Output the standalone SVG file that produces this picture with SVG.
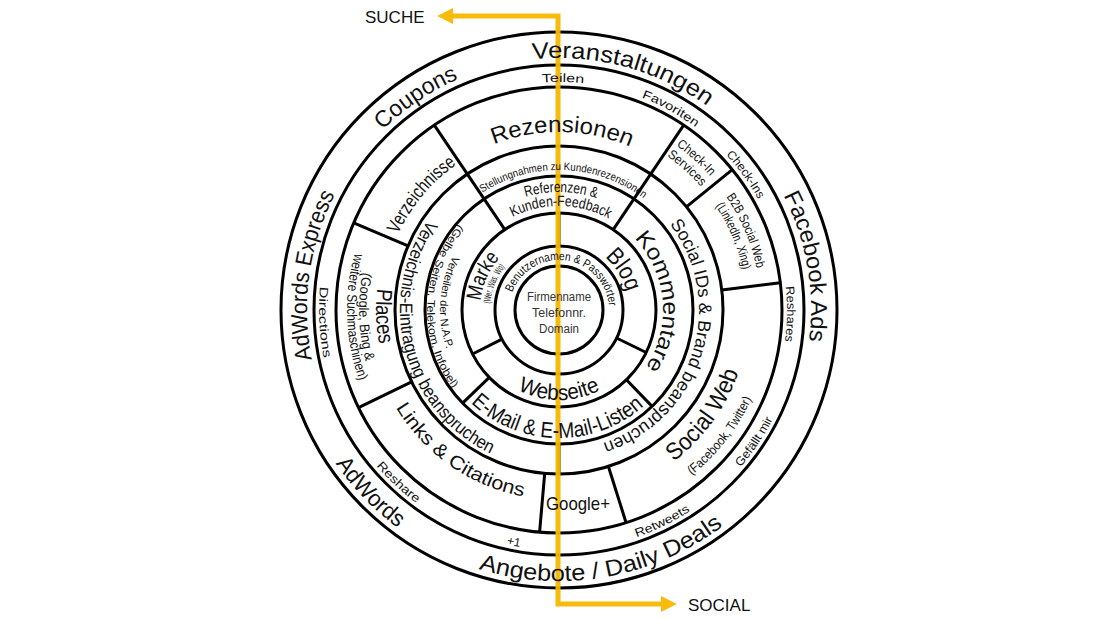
<svg xmlns="http://www.w3.org/2000/svg" xmlns:xlink="http://www.w3.org/1999/xlink" width="1100" height="618" viewBox="0 0 1100 618">
<style>
text{font-family:"Liberation Sans","Noto Sans",sans-serif;fill:#111}
.ring{fill:none;stroke:#000;stroke-width:3}
.sp{stroke:#000;stroke-width:3}
.o{font-size:23px}
.s{font-size:12px}
.l{font-size:21px}
.m{font-size:17px}
.t{font-size:12px}
</style>
<defs>
<marker id="ah" viewBox="0 0 10 10" refX="2" refY="5" markerWidth="3.2" markerHeight="3.2" orient="auto-start-reverse"><path d="M0,0 L10,5 L0,10 z" fill="#F6B800"/></marker>
<path id="c252" d="M559,562 A252,252 0 1 1 559,58 A252,252 0 1 1 559,562"/>
<path id="c228" d="M559,538 A228,228 0 1 1 559,82 A228,228 0 1 1 559,538"/>
<path id="c202" d="M559,512 A202,202 0 1 1 559,108 A202,202 0 1 1 559,512"/>
<path id="c188" d="M559,498 A188,188 0 1 1 559,122 A188,188 0 1 1 559,498"/>
<path id="c178" d="M559,488 A178,178 0 1 1 559,132 A178,178 0 1 1 559,488"/>
<path id="c140" d="M559,450 A140,140 0 1 1 559,170 A140,140 0 1 1 559,450"/>
<path id="c118" d="M559,428 A118,118 0 1 1 559,192 A118,118 0 1 1 559,428"/>
<path id="c104" d="M559,414 A104,104 0 1 1 559,206 A104,104 0 1 1 559,414"/>
<path id="c79" d="M559,389 A79,79 0 1 1 559,231 A79,79 0 1 1 559,389"/>
<path id="c70" d="M559,380 A70,70 0 1 1 559,240 A70,70 0 1 1 559,380"/>
<path id="c69" d="M559,379 A69,69 0 1 1 559,241 A69,69 0 1 1 559,379"/>
<path id="c50" d="M559,360 A50,50 0 1 1 559,260 A50,50 0 1 1 559,360"/>
<path id="a271" d="M559,39 A271,271 0 1 0 559,581 A271,271 0 1 0 559,39"/>
<path id="a240" d="M559,70 A240,240 0 1 0 559,550 A240,240 0 1 0 559,70"/>
<path id="a212" d="M559,98 A212,212 0 1 0 559,522 A212,212 0 1 0 559,98"/>
<path id="a200" d="M559,110 A200,200 0 1 0 559,510 A200,200 0 1 0 559,110"/>
<path id="a190" d="M559,120 A190,190 0 1 0 559,500 A190,190 0 1 0 559,120"/>
<path id="a183" d="M559,127 A183,183 0 1 0 559,493 A183,183 0 1 0 559,127"/>
<path id="a159" d="M559,151 A159,159 0 1 0 559,469 A159,159 0 1 0 559,151"/>
<path id="a132" d="M559,178 A132,132 0 1 0 559,442 A132,132 0 1 0 559,178"/>
<path id="a128" d="M559,182 A128,128 0 1 0 559,438 A128,128 0 1 0 559,182"/>
<path id="a119" d="M559,191 A119,119 0 1 0 559,429 A119,119 0 1 0 559,191"/>
<path id="a90" d="M559,220 A90,90 0 1 0 559,400 A90,90 0 1 0 559,220"/>
</defs>
<rect width="1100" height="618" fill="#fff"/>
<g id="rings">
<circle class="ring" cx="559" cy="310" r="278"/>
<circle class="ring" cx="559" cy="310" r="245"/>
<circle class="ring" cx="559" cy="310" r="223"/>
<circle class="ring" cx="559" cy="310" r="164"/>
<circle class="ring" cx="559" cy="310" r="134"/>
<circle class="ring" cx="559" cy="310" r="97"/>
<circle class="ring" cx="559" cy="310" r="64"/>
<circle class="ring" cx="559" cy="310" r="44"/>
</g>
<g id="connectors">
<line class="sp" x1="683.7" y1="125.1" x2="613.2" y2="229.6"/>
<line class="sp" x1="434.3" y1="125.1" x2="504.8" y2="229.6"/>
<line class="sp" x1="686.4" y1="206.8" x2="732.3" y2="169.7"/>
<line class="sp" x1="721.8" y1="290" x2="780.4" y2="282.8"/>
<line class="sp" x1="608.4" y1="466.5" x2="626.1" y2="522.7"/>
<line class="sp" x1="544.7" y1="473.3" x2="539.6" y2="532.1"/>
<line class="sp" x1="411.6" y1="381.9" x2="358.5" y2="407.7"/>
<line class="sp" x1="408" y1="245.9" x2="353.7" y2="222.8"/>
<line class="sp" x1="559" y1="444" x2="559" y2="474"/>
<line class="sp" x1="626.4" y1="379.8" x2="652.1" y2="406.4"/>
<line class="sp" x1="489.3" y1="377.4" x2="462.6" y2="403.1"/>
<line class="sp" x1="559" y1="246" x2="559" y2="213"/>
<line class="sp" x1="616.5" y1="338" x2="646.2" y2="352.5"/>
<line class="sp" x1="502" y1="339.1" x2="472.6" y2="354"/>
<path d="M450,16 H558 V604 H664" fill="none" stroke="#F6B800" stroke-width="5" marker-start="url(#ah)" marker-end="url(#ah)" opacity="0.95"/>
</g>
<g id="labels">
<text x="365" y="23" style="font-size:17px">SUCHE</text>
<text x="688" y="611" style="font-size:17px">SOCIAL</text>
<text class="o" text-anchor="middle"><textPath href="#c252" startOffset="54.17%" textLength="185" lengthAdjust="spacingAndGlyphs">Veranstaltungen</textPath></text>
<text class="o" text-anchor="middle"><textPath href="#c252" startOffset="40.56%" textLength="92" lengthAdjust="spacingAndGlyphs">Coupons</textPath></text>
<text class="o" text-anchor="middle"><textPath href="#c252" startOffset="27.22%" textLength="170" lengthAdjust="spacingAndGlyphs">AdWords Express</textPath></text>
<text class="o" text-anchor="middle"><textPath href="#c252" startOffset="72.22%" textLength="150" lengthAdjust="spacingAndGlyphs">Facebook Ads</textPath></text>
<text class="o" text-anchor="middle"><textPath href="#a271" startOffset="52.78%" textLength="258" lengthAdjust="spacingAndGlyphs">Angebote / Daily Deals</textPath></text>
<text class="o" text-anchor="middle"><textPath href="#a271" startOffset="37.22%" textLength="90" lengthAdjust="spacingAndGlyphs">AdWords</textPath></text>
<text class="s" text-anchor="middle"><textPath href="#c228" startOffset="50.28%" textLength="42" lengthAdjust="spacingAndGlyphs">Teilen</textPath></text>
<text class="s" text-anchor="middle"><textPath href="#c228" startOffset="58.06%" textLength="62" lengthAdjust="spacingAndGlyphs">Favoriten</textPath></text>
<text class="s" text-anchor="middle"><textPath href="#c228" startOffset="65%" textLength="55" lengthAdjust="spacingAndGlyphs">Check-Ins</textPath></text>
<text class="s" text-anchor="middle"><textPath href="#c228" startOffset="75.28%" textLength="55" lengthAdjust="spacingAndGlyphs">Reshares</textPath></text>
<text class="s" text-anchor="middle"><textPath href="#a240" startOffset="65.56%" textLength="58" lengthAdjust="spacingAndGlyphs">Gefällt mir</textPath></text>
<text class="s" text-anchor="middle"><textPath href="#a240" startOffset="57.22%" textLength="60" lengthAdjust="spacingAndGlyphs">Retweets</textPath></text>
<text class="s" text-anchor="middle"><textPath href="#a240" startOffset="46.94%">+1</textPath></text>
<text class="s" text-anchor="middle"><textPath href="#a240" startOffset="38.06%" textLength="55" lengthAdjust="spacingAndGlyphs">Reshare</textPath></text>
<text class="s" text-anchor="middle"><textPath href="#a240" startOffset="25.83%" textLength="72" lengthAdjust="spacingAndGlyphs">Directions</textPath></text>
<text class="l" style="font-size:23px" text-anchor="middle"><textPath href="#c178" startOffset="50.28%" textLength="140" lengthAdjust="spacingAndGlyphs">Rezensionen</textPath></text>
<text class="m" style="font-size:19px" text-anchor="middle"><textPath href="#c178" startOffset="36.11%" textLength="92" lengthAdjust="spacingAndGlyphs">Verzeichnisse</textPath></text>
<text class="t" style="font-size:13px" text-anchor="middle"><textPath href="#c202" startOffset="61.67%" textLength="46" lengthAdjust="spacingAndGlyphs">Check-In</textPath></text>
<text class="t" style="font-size:13px" text-anchor="middle"><textPath href="#c188" startOffset="61.67%" textLength="46" lengthAdjust="spacingAndGlyphs">Services</textPath></text>
<text class="t" style="font-size:13px" text-anchor="middle"><textPath href="#c202" startOffset="68.61%" textLength="78" lengthAdjust="spacingAndGlyphs">B2B Social Web</textPath></text>
<text class="t" style="font-size:13px" text-anchor="middle"><textPath href="#c188" startOffset="68.61%" textLength="70" lengthAdjust="spacingAndGlyphs">(LinkedIn, Xing)</textPath></text>
<text class="l" style="font-size:24px" text-anchor="middle"><textPath href="#a190" startOffset="65%" textLength="112" lengthAdjust="spacingAndGlyphs">Social Web</textPath></text>
<text class="t" style="font-size:13px" text-anchor="middle"><textPath href="#a212" startOffset="64.44%" textLength="98" lengthAdjust="spacingAndGlyphs">(Facebook, Twitter)</textPath></text>
<text class="m" style="font-size:19px" text-anchor="middle"><textPath href="#a190" startOffset="40.28%" textLength="160" lengthAdjust="spacingAndGlyphs">Links &amp; Citations</textPath></text>
<text class="l" style="font-size:22px" text-anchor="middle"><textPath href="#a183" startOffset="25.56%" textLength="56" lengthAdjust="spacingAndGlyphs">Places</textPath></text>
<text class="t" style="font-size:14px" text-anchor="middle"><textPath href="#a200" startOffset="25.56%" textLength="90" lengthAdjust="spacingAndGlyphs">(Google, Bing &amp;</textPath></text>
<text class="t" style="font-size:14px" text-anchor="middle"><textPath href="#a212" startOffset="25.56%" textLength="130" lengthAdjust="spacingAndGlyphs">weitere Suchmaschinen)</textPath></text>
<text x="578" y="510" class="m" style="font-size:19px" text-anchor="middle" textLength="64" lengthAdjust="spacingAndGlyphs">Google+</text>
<text style="font-size:11px" text-anchor="middle"><textPath href="#c140" startOffset="50.56%" textLength="172" lengthAdjust="spacingAndGlyphs">Stellungnahmen zu Kundenrezensionen</textPath></text>
<text class="m" style="font-size:18px" text-anchor="middle"><textPath href="#c140" startOffset="79.72%" textLength="268" lengthAdjust="spacingAndGlyphs">Social IDs &amp; Brand beanspruchen</textPath></text>
<text class="m" style="font-size:18px" text-anchor="middle"><textPath href="#a159" startOffset="29.17%" textLength="275" lengthAdjust="spacingAndGlyphs">Verzeichnis-Eintragung beanspruchen</textPath></text>
<text class="t" style="font-size:15px" text-anchor="middle"><textPath href="#c118" startOffset="50.28%" textLength="72" lengthAdjust="spacingAndGlyphs">Referenzen &amp;</textPath></text>
<text class="t" style="font-size:15px" text-anchor="middle"><textPath href="#c104" startOffset="50.28%" textLength="100" lengthAdjust="spacingAndGlyphs">Kunden-Feedback</textPath></text>
<text class="l" style="font-size:22px" text-anchor="middle"><textPath href="#c104" startOffset="73.61%" textLength="140" lengthAdjust="spacingAndGlyphs">Kommentare</textPath></text>
<text class="t" style="font-size:11px" text-anchor="middle"><textPath href="#a119" startOffset="23.89%" textLength="96" lengthAdjust="spacingAndGlyphs">Verteilen der N.A.P.</textPath></text>
<text class="t" style="font-size:11px" text-anchor="middle"><textPath href="#a132" startOffset="24.44%" textLength="178" lengthAdjust="spacingAndGlyphs">(Gelbe Seiten, Telekom, Infobel)</textPath></text>
<text class="l" style="font-size:22px" text-anchor="middle"><textPath href="#a128" startOffset="49.72%" textLength="190" lengthAdjust="spacingAndGlyphs">E-Mail &amp; E-Mail-Listen</textPath></text>
<text class="l" style="font-size:24px" text-anchor="middle"><textPath href="#c70" startOffset="66.11%" textLength="42" lengthAdjust="spacingAndGlyphs">Blog</textPath></text>
<text class="l" style="font-size:21px" text-anchor="middle"><textPath href="#c79" startOffset="31.67%" textLength="48" lengthAdjust="spacingAndGlyphs">Marke</textPath></text>
<text style="font-size:10px" text-anchor="middle"><textPath href="#c69" startOffset="31.11%" textLength="40" lengthAdjust="spacingAndGlyphs">(Wer, Was, Wo)</textPath></text>
<text class="l" style="font-size:22px" text-anchor="middle"><textPath href="#a90" startOffset="50%" textLength="86" lengthAdjust="spacingAndGlyphs">Webseite</textPath></text>
<text class="t" text-anchor="middle"><textPath href="#c50" startOffset="52.22%" textLength="135" lengthAdjust="spacingAndGlyphs">Benutzernamen &amp; Passwörter</textPath></text>
<text x="559" y="301" class="t" text-anchor="middle" style="fill:#333" textLength="64" lengthAdjust="spacingAndGlyphs">Firmenname</text>
<text x="559" y="317" class="t" text-anchor="middle" style="fill:#333" textLength="54" lengthAdjust="spacingAndGlyphs">Telefonnr.</text>
<text x="559" y="333" class="t" text-anchor="middle" style="fill:#333" textLength="40" lengthAdjust="spacingAndGlyphs">Domain</text>
</g>
</svg>
